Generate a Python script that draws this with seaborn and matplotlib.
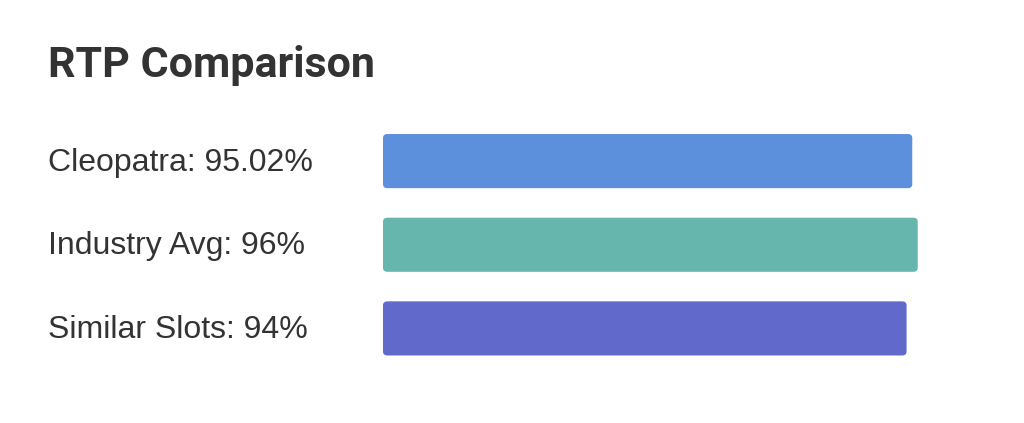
import matplotlib
matplotlib.use("Agg")
import matplotlib.pyplot as plt
import matplotlib.transforms as mtransforms
from matplotlib.patches import FancyBboxPatch
import seaborn as sns
import pandas as pd

# data
names = ["Cleopatra", "Industry Avg", "Similar Slots"]
rtp = [95.02, 96, 94]
rtp_text = ["95.02%", "96%", "94%"]
colors = ["#5c8fdc", "#66b6ae", "#6169cb"]

df = pd.DataFrame({"name": names, "rtp": rtp})

sns.set_theme(style="white")
plt.rcParams["font.family"] = ["Liberation Sans", "DejaVu Sans"]

fig = plt.figure(figsize=(10.24, 4.23), dpi=100)
fig.patch.set_facecolor("white")
ax = fig.add_axes([383 / 1024, 1 - 370.25 / 423, 557 / 1024, 251 / 423])

sns.barplot(data=df, x="rtp", y="name", hue="name", palette=colors,
            saturation=1, legend=False, width=0.647, ax=ax, orient="h")
ax.set_xlim(0, 100)
ax.set_ylim(2.5, -0.5)
ax.axis("off")

# swap plain rectangles for rounded ones
for p in list(ax.patches):
    x0, y0 = p.get_x(), p.get_y()
    w, h = p.get_width(), p.get_height()
    fc = p.get_facecolor()
    p.remove()
    ax.add_patch(FancyBboxPatch((x0, y0), w, h,
                                boxstyle="round,pad=0,rounding_size=0.8",
                                mutation_aspect=0.06, facecolor=fc,
                                edgecolor="none"))

trans = mtransforms.blended_transform_factory(fig.transFigure, ax.transData)
for i, (n, t) in enumerate(zip(names, rtp_text)):
    ax.text(48 / 1024, i + 0.02, f"{n}: {t}", transform=trans, ha="left",
            va="center", fontsize=23, color="#333333")

fig.text(48 / 1024, 1 - 65 / 423, "RTP Comparison", ha="left", va="center",
         fontsize=31, fontweight="bold", color="#333333", family="Roboto")

fig.savefig("out.png", dpi=100, facecolor="white")
